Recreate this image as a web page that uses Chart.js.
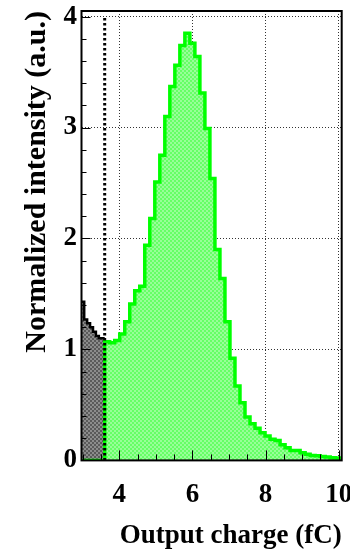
<!DOCTYPE html>
<html>
<head>
<meta charset="utf-8">
<script src="https://cdn.jsdelivr.net/npm/chart.js@4.4.1/dist/chart.umd.min.js"></script>
<style>
html, body { margin: 0; padding: 0; background: #fff; }
#wrap { width: 350px; height: 551px; }
</style>
</head>
<body>
<div id="wrap"><canvas id="c" width="350" height="551"></canvas></div>
<script>
// Output charge spectrum: signal histogram above the discrimination
// threshold (green) and the noise histogram below it (dark).

const signalStart = 2.915;   // fC, left edge of the first signal bin
const signalWidth = 0.137;   // fC per signal bin
const signalValues = [
  0, 0, 0, 0, 0,
  1.07, 1.06, 1.08, 1.14, 1.25, 1.41, 1.53, 1.57, 1.94, 2.18,
  2.51, 2.75, 3.10, 3.37, 3.56, 3.74, 3.85, 3.76, 3.64, 3.31,
  2.99, 2.54, 1.90, 1.64, 1.25, 0.92, 0.67, 0.52, 0.39, 0.33,
  0.29, 0.25, 0.22, 0.19, 0.18, 0.14, 0.115, 0.09, 0.09, 0.07,
  0.056, 0.045, 0.043, 0.035, 0.03, 0.025, 0.022, 0.02
];

const noiseStart = 2.96;     // fC, left edge of the first noise bin
const noiseWidth = 0.08;     // fC per noise bin
const noiseValues = [1.43, 1.27, 1.235, 1.20, 1.16, 1.12, 1.10, 1.10];

const threshold = [3.6];     // fC, discrimination threshold
const thresholdSpan = [0, 4.0];

const xRange = [2.966, 10.08];
const yRange = [0, 4.05];
const xTickStep = 2;
const yTickStep = 1;
const xMinorStep = 0.5;
const yMinorStep = 0.2;

// Turn bin contents into step points (left edges + closing right edge)
function histPoints(start, width, values) {
  const pts = values.map((v, i) => ({ x: start + i * width, y: v }));
  pts.push({ x: start + values.length * width, y: values[values.length - 1] });
  return pts;
}

function checker(c1, c2, size) {
  const p = document.createElement('canvas');
  p.width = p.height = size * 2;
  const g = p.getContext('2d');
  g.fillStyle = c1; g.fillRect(0, 0, size * 2, size * 2);
  g.fillStyle = c2; g.fillRect(0, 0, size, size); g.fillRect(size, size, size, size);
  return g.createPattern(p, 'repeat');
}

const serif = 'Liberation Serif, "Times New Roman", serif';

// Frame and inward tick marks in the ROOT style
const framePlugin = {
  id: 'frame',
  afterDraw(chart) {
    const { ctx, chartArea: a, scales: { x, y } } = chart;
    ctx.save();
    ctx.strokeStyle = '#000';
    ctx.lineWidth = 1;
    const xs = Math.ceil(xRange[0] / xMinorStep) * xMinorStep;
    for (let v = xs; v <= xRange[1] + 1e-9; v += xMinorStep) {
      const px = Math.round(x.getPixelForValue(v)) + 0.5;
      const major = Math.abs(v / xTickStep - Math.round(v / xTickStep)) < 1e-6;
      const len = major ? 10 : 6;
      ctx.beginPath(); ctx.moveTo(px, a.bottom); ctx.lineTo(px, a.bottom - len); ctx.stroke();
    }
    for (let v = yRange[0]; v <= yRange[1] + 1e-9; v += yMinorStep) {
      const py = Math.round(y.getPixelForValue(v)) + 0.5;
      const major = Math.abs(v / yTickStep - Math.round(v / yTickStep)) < 1e-6;
      const len = major ? 9 : 5;
      ctx.beginPath(); ctx.moveTo(a.left, py); ctx.lineTo(a.left + len, py); ctx.stroke();
    }
    ctx.lineWidth = 2;
    ctx.strokeRect(a.left, a.top, a.right - a.left, a.bottom - a.top);
    ctx.restore();
  }
};

const tickFont = { family: serif, weight: 'bold', size: 27 };
const xTitleFont = { family: serif, weight: 'bold', size: 27, lineHeight: 1 };
const yTitleFont = { family: serif, weight: 'bold', size: 30, lineHeight: 1 };

new Chart(document.getElementById('c'), {
  type: 'line',
  data: {
    datasets: [
      {
        label: 'threshold',
        data: thresholdSpan.map(v => ({ x: threshold[0], y: v })),
        borderColor: '#000',
        borderWidth: 3,
        borderDash: [2.5, 2.5],
        pointRadius: 0,
        fill: false
      },
      {
        label: 'signal',
        data: histPoints(signalStart, signalWidth, signalValues),
        stepped: 'before',
        borderColor: '#00ff00',
        borderWidth: 3.5,
        backgroundColor: checker('#66ff66', '#98ff98', 2),
        fill: 'origin',
        pointRadius: 0
      },
      {
        label: 'noise',
        data: histPoints(noiseStart, noiseWidth, noiseValues),
        stepped: 'before',
        borderColor: '#000',
        borderWidth: 2.5,
        backgroundColor: checker('#5a5a5a', '#8c8c8c', 2),
        fill: 'origin',
        pointRadius: 0
      }
    ]
  },
  options: {
    responsive: false,
    animation: false,
    devicePixelRatio: 1,
    layout: { padding: { top: 11, right: 8.3, left: 0, bottom: 0 } },
    plugins: { legend: { display: false }, tooltip: { enabled: false } },
    scales: {
      x: {
        type: 'linear',
        min: xRange[0], max: xRange[1],
        z: 1,
        grid: { color: '#333', lineWidth: 1, drawTicks: false },
        border: { display: false, dash: [1, 2] },
        ticks: {
          stepSize: xTickStep, includeBounds: false, autoSkip: false, maxRotation: 0,
          font: tickFont, color: '#000', padding: 18
        },
        title: {
          display: true, text: 'Output charge (fC)', align: 'end',
          font: xTitleFont, color: '#000', padding: { top: 0, bottom: 1.5 }
        },
        afterFit(s) { s.height = 90.6; s.paddingLeft = 0; s.paddingRight = 0; }
      },
      y: {
        type: 'linear',
        min: yRange[0], max: yRange[1],
        z: 1,
        grid: { color: '#333', lineWidth: 1, drawTicks: false },
        border: { display: false, dash: [1, 2] },
        ticks: {
          stepSize: yTickStep, includeBounds: false,
          font: tickFont, color: '#000', padding: 4.5
        },
        title: {
          display: true, text: 'Normalized intensity (a.u.)', align: 'end',
          font: yTitleFont, color: '#000', padding: { top: 22, bottom: 0 }
        },
        afterFit(s) { s.width = 81.5; s.paddingTop = 0; s.paddingBottom = 0; }
      }
    }
  },
  plugins: [framePlugin]
});
</script>
</body>
</html>
